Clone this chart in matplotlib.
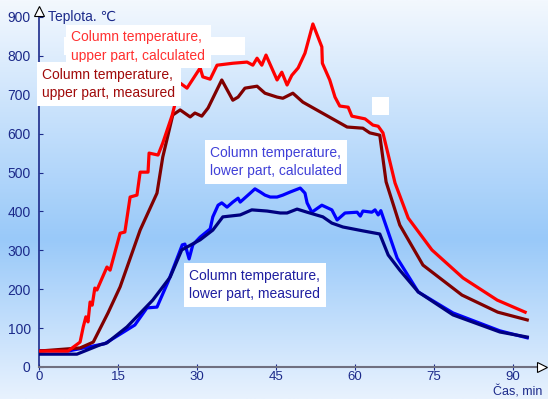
import numpy as np
import matplotlib.pyplot as plt
from matplotlib.colors import LinearSegmentedColormap
from matplotlib.patches import Rectangle

plt.rcParams['font.family'] = ['Liberation Sans', 'DejaVu Sans']

# upper part, calculated
t_up_calc = [0, 5.5, 7.8, 8.4, 8.9, 9.3, 9.7, 10.1, 10.6, 11.0, 12.9, 13.5, 15.4, 16.3,
             17.3, 18.6, 19.2, 20.7, 20.9, 22.6, 23.5, 25.3, 26.8, 28.1, 30.6, 31.1,
             32.5, 33.8, 36.8, 39.5, 40.6, 41.4, 42.3, 43.1, 45.2, 46.1, 47.1, 48.0,
             49.2, 50.5, 52.0, 53.7, 53.8, 55.2, 56.2, 57.1, 58.7, 59.4, 61.9, 63.4,
             64.4, 65.3, 67.6, 70.1, 74.6, 80.5, 87.0, 92.3]
T_up_calc = [41, 41, 64, 103, 129, 116, 167, 159, 203, 198, 257, 249, 344, 347,
             437, 442, 501, 501, 550, 545, 576, 648, 730, 717, 769, 746,
             740, 776, 781, 784, 776, 794, 776, 802, 738, 758, 725, 750,
             769, 807, 882, 823, 781, 738, 694, 671, 668, 645, 638, 622,
             619, 602, 473, 383, 301, 229, 172, 141]

# upper part, measured
t_up_meas = [0, 7.8, 10.3, 13.1, 15.4, 19.2, 22.4, 23.5, 25.4, 26.8, 28.7, 29.6, 30.9,
             32.1, 34.7, 36.8, 37.8, 39.1, 41.4, 42.9, 45.2, 46.3, 48.2, 50.1, 58.5,
             61.5, 62.8, 64.7, 65.9, 68.5, 72.9, 80.3, 87.1, 92.7]
T_up_meas = [41, 49, 64, 139, 206, 352, 447, 540, 648, 661, 643, 653, 645,
             666, 738, 686, 694, 717, 722, 704, 694, 691, 704, 681, 617,
             614, 602, 596, 476, 365, 262, 185, 141, 121]

# lower part, calculated
t_lo_calc = [0, 5.9, 12.5, 18.2, 20.5, 22.4, 24.5, 27.2, 27.7, 28.5, 29.2, 30.6, 32.5,
             33.0, 34.0, 34.7, 35.7, 36.8, 37.8, 38.2, 40.1, 41.0, 42.0, 42.9, 43.9,
             45.2, 46.3, 47.7, 49.6, 50.5, 50.9, 51.8, 53.7, 55.6, 56.6, 58.1, 60.4,
             61.0, 61.5, 63.2, 63.8, 64.4, 64.9, 68.0, 72.0, 78.6, 87.5, 92.7]
T_lo_calc = [42, 42, 60, 108, 152, 154, 219, 314, 316, 278, 314, 334, 355,
             386, 416, 422, 411, 424, 434, 424, 447, 458, 450, 442, 437,
             437, 442, 450, 460, 447, 422, 398, 416, 404, 378, 396, 398,
             388, 401, 398, 404, 391, 402, 280, 193, 139, 93, 75]

# lower part, measured
t_lo_meas = [0, 7.2, 11.6, 12.9, 16.7, 21.6, 24.9, 27.1, 30.6, 33.0, 34.9, 38.2, 40.4,
             43.3, 45.8, 47.1, 49.0, 50.9, 53.9, 55.6, 57.7, 61.5, 64.7, 66.3, 68.5,
             72.0, 78.6, 87.5, 92.7]
T_lo_meas = [33, 33, 57, 62, 103, 172, 231, 301, 327, 352, 386, 391, 404,
             401, 396, 396, 406, 398, 386, 370, 360, 350, 342, 288, 249,
             193, 134, 90, 77]

x_ticks = [0, 15, 30, 45, 60, 75, 90]
y_ticks = list(range(0, 901, 100))

navy = '#1c2a8a'

fig = plt.figure(figsize=(5.48, 3.99), dpi=100)

# background gradient
bg = fig.add_axes([0, 0, 1, 1], zorder=-10)
grad = LinearSegmentedColormap.from_list('bg', [(0.0, '#f3f8fe'), (0.6, '#99c9f9'), (1.0, '#e8f2fe')])
bg.imshow(np.linspace(0, 1, 256).reshape(-1, 1), aspect='auto', cmap=grad, extent=[0, 1, 0, 1])
bg.axis('off')

ax = fig.add_axes([39 / 548, 32 / 399, 503 / 548, 361.7 / 399])
ax.patch.set_alpha(0)
ax.set_xlim(0, 95.5)
ax.set_ylim(0, 930)

lw = 2.3
ax.plot(t_lo_calc, T_lo_calc, color='#0000ff', lw=lw, zorder=3)
ax.plot(t_lo_meas, T_lo_meas, color='#000080', lw=lw, zorder=4)
ax.plot(t_up_meas, T_up_meas, color='#800000', lw=lw, zorder=3)
ax.plot(t_up_calc, T_up_calc, color='#ff0000', lw=lw, zorder=4)

for s in ['top', 'right']:
    ax.spines[s].set_visible(False)
ax.spines['left'].set_color(navy)
ax.spines['left'].set_linewidth(1.2)
ax.spines['left'].set_bounds(0, 915)
ax.spines['bottom'].set_color('#707080')
ax.spines['bottom'].set_linewidth(1.5)

ax.set_xticks(x_ticks)
ax.set_yticks(y_ticks)
ax.tick_params(axis='y', direction='in', length=3, color=navy, labelcolor=navy, labelsize=10, pad=6)
ax.tick_params(axis='x', direction='inout', length=4, color=navy, labelcolor=navy, labelsize=9.5, pad=1)

# axis arrows
ax.plot([0], [915], marker='^', ms=7, mfc='white', mec='black', mew=0.8, clip_on=False, zorder=6)
ax.plot([1.0], [0], marker='>', ms=7, mfc='white', mec='black', mew=0.8,
        transform=ax.get_yaxis_transform(), clip_on=False, zorder=6)

ax.text(1.7, 900, 'Teplota. ℃', color=navy, fontsize=10, va='center', ha='left', zorder=7)
fig.text(542 / 548, 0.5 / 399, 'Čas, min', color=navy, fontsize=9, va='bottom', ha='right')

# label boxes
ax.add_patch(Rectangle((4.8, 802), 34.3, 46, facecolor='white', edgecolor='none', zorder=5))
ax.add_patch(Rectangle((63.2, 648), 3.2, 46, facecolor='white', edgecolor='none', zorder=5))

box = dict(facecolor='white', edgecolor='none', pad=4)
ax.text(6.1, 824, 'Column temperature,\nupper part, calculated', color='#ff3030', fontsize=10,
        va='center', ha='left', linespacing=1.4, bbox=box, zorder=6)
ax.text(0.6, 728, 'Column temperature,\nupper part, measured', color='#a00a0a', fontsize=10,
        va='center', ha='left', linespacing=1.4, bbox=box, zorder=6)
ax.text(32.5, 527, 'Column temperature,\nlower part, calculated', color='#4040d8', fontsize=10,
        va='center', ha='left', linespacing=1.4, bbox=box, zorder=6)
ax.text(28.5, 211, 'Column temperature,\nlower part, measured', color='#1e1ea0', fontsize=10,
        va='center', ha='left', linespacing=1.4, bbox=box, zorder=6)

fig.savefig('out.png', dpi=100)
